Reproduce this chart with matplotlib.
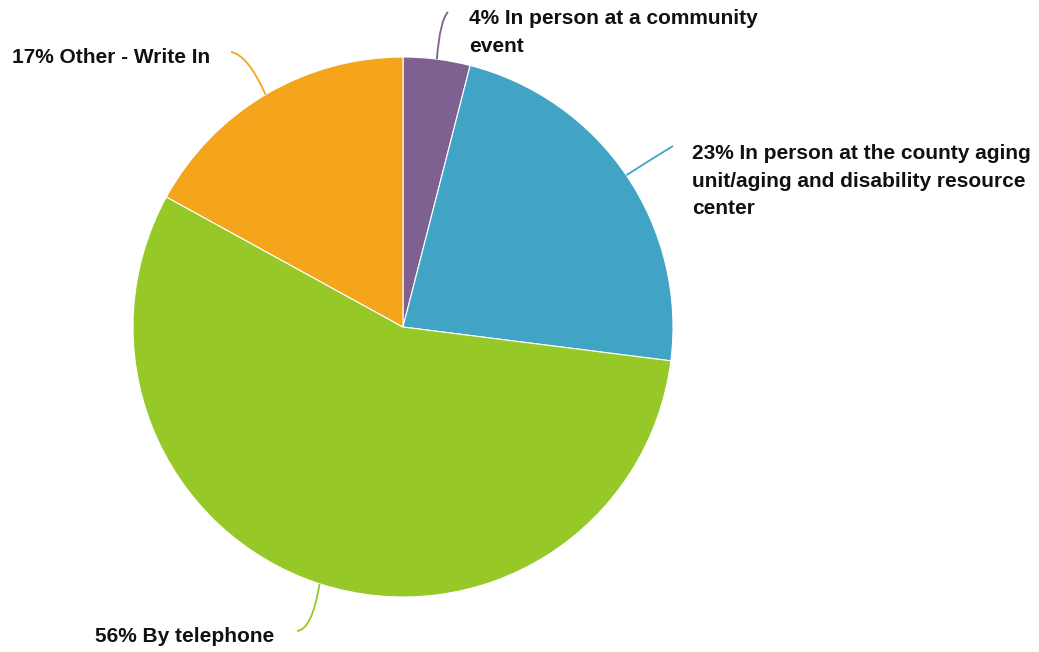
import matplotlib
matplotlib.use("Agg")
import numpy as np
import matplotlib.pyplot as plt
from matplotlib.path import Path
from matplotlib.patches import PathPatch

W, H = 1039, 652

labels = [
    "In person at a community\nevent",
    "In person at the county aging\nunit/aging and disability resource\ncenter",
    "By telephone",
    "Other - Write In",
]
shares = [4, 23, 56, 17]
colors = ["#7e6191", "#41a4c4", "#96c928", "#f5a51c"]

# label anchor (text top-left) and leader-line elbow/end, in pixel space (y down)
text_pos = [(469, 9), (692, 144), (95, 627), (12, 48)]
leader_ctrl = [(440, 20), (650, 160), (312, 630), (248, 55)]
leader_end = [(448, 12), (673, 146), (297, 631), (231, 52)]

CX, CY, R = 403, 327, 270


def px(x, y):
    return x, H - y


fig = plt.figure(figsize=(W / 100, H / 100), dpi=100)
ax = fig.add_axes([0, 0, 1, 1])
ax.set_xlim(0, W)
ax.set_ylim(0, H)
ax.set_aspect("equal")
ax.axis("off")

wedges, _ = ax.pie(
    shares,
    colors=colors,
    startangle=90,
    counterclock=False,
    center=px(CX, CY),
    radius=R,
    wedgeprops=dict(edgecolor="white", linewidth=0.8),
)
ax.set_xlim(0, W)
ax.set_ylim(0, H)

for w, lab, share, col, tp, cp, ep in zip(wedges, labels, shares, colors,
                                          text_pos, leader_ctrl, leader_end):
    mid = np.deg2rad((w.theta1 + w.theta2) / 2)
    sx = w.center[0] + R * np.cos(mid)
    sy = w.center[1] + R * np.sin(mid)
    path = Path([(sx, sy), px(*cp), px(*ep)],
                [Path.MOVETO, Path.CURVE3, Path.CURVE3])
    ax.add_patch(PathPatch(path, facecolor="none", edgecolor=col, lw=1.3))
    ax.text(*px(*tp), f"{share}% {lab}", ha="left", va="top",
            fontsize=15, fontweight="bold", family="Liberation Sans",
            linespacing=1.58, color="#111111")

fig.savefig("out.png", dpi=100)
